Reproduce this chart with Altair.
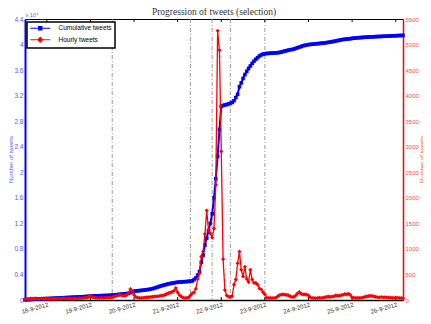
import altair as alt
import pandas as pd

# ---------------- data ----------------
hourly = [
    20, 25, 18, 30, 22, 28, 35, 25, 20, 30, 26, 22,
    28, 20, 32, 25, 18, 24, 30, 22, 26, 35, 28, 24,
    30, 26, 22, 35, 30, 28, 38, 32, 40, 45, 50, 60,
    80, 55, 45, 42, 40, 38, 45, 40, 42, 48, 45, 50,
    55, 65, 75, 90, 100, 95, 85, 80, 100, 140, 215, 160,
    100, 60, 45, 42, 40, 45, 50, 52, 55, 58, 62, 65,
    70, 72, 78, 85, 90, 100, 120, 135, 145, 160, 180, 235,
    150, 95, 65, 45, 40, 42, 50, 90, 130, 150, 220, 410,
    520, 850, 950, 1290, 1750, 1360, 1300, 1220, 1400, 2250, 5270, 4890,
    2910, 800, 195, 90, 65, 60, 77, 300, 400, 720, 946, 590,
    460, 650, 410, 350, 590, 400, 335, 335, 300, 226, 206, 150,
    110, 45, 40, 38, 40, 38, 45, 70, 95, 105, 110, 105,
    100, 90, 70, 58, 60, 90, 130, 154, 120, 110, 110, 105,
    90, 50, 38, 40, 35, 38, 42, 40, 45, 55, 62, 65,
    60, 68, 70, 90, 80, 85, 95, 100, 115, 110, 122, 100,
    50, 45, 40, 42, 38, 45, 48, 60, 70, 75, 80, 77,
    70, 60, 55, 50, 58, 52, 55, 50, 48, 45, 42, 40,
    48, 45, 40, 38, 35,
]
cumulative = [
    30, 50, 65, 85, 100, 120, 140, 155, 170, 185, 200, 210,
    220, 230, 240, 255, 270, 285, 300, 320, 335, 350, 365, 380,
    395, 410, 425, 440, 455, 470, 485, 500, 515, 530, 550, 580,
    615, 630, 640, 650, 660, 670, 680, 690, 700, 710, 720, 735,
    760, 790, 820, 850, 880, 910, 940, 970, 1000, 1050, 1150, 1300,
    1380, 1410, 1440, 1470, 1500, 1530, 1570, 1610, 1650, 1700, 1760, 1840,
    1930, 2030, 2130, 2220, 2300, 2380, 2450, 2520, 2580, 2640, 2690, 2740,
    2780, 2810, 2830, 2850, 2870, 2890, 2920, 2960, 2980, 3200, 3450, 3900,
    4450, 5900, 7000, 8600, 9700, 10900, 12000, 13500, 16000, 19000, 22500, 26700,
    30300, 30450, 30550, 30600, 30700, 30800, 30950, 31200, 31700, 32200, 33400, 34000,
    34700, 35300, 35800, 36250, 36650, 37050, 37400, 37700, 37950, 38200, 38380, 38500,
    38560, 38600, 38620, 38640, 38660, 38680, 38700, 38720, 38760, 38820, 38900, 38980,
    39050, 39120, 39180, 39230, 39300, 39400, 39500, 39600, 39700, 39800, 39880, 39940,
    39990, 40020, 40050, 40080, 40110, 40140, 40170, 40200, 40230, 40260, 40300, 40350,
    40400, 40450, 40500, 40560, 40620, 40680, 40740, 40790, 40830, 40860, 40880, 40920,
    40960, 41000, 41030, 41060, 41080, 41100, 41120, 41140, 41160, 41180, 41190, 41200,
    41220, 41240, 41250, 41260, 41280, 41290, 41300, 41320, 41330, 41340, 41360, 41370,
    41380, 41400, 41410, 41420, 41430,
]
assert len(hourly) == len(cumulative) == 209

hours = list(range(len(hourly)))          # hours since 17-9-2012 12:00
tick_hours = [12, 36, 60, 84, 108, 132, 156, 180, 204]
tick_labels = ["18-9-2012", "19-9-2012", "20-9-2012", "21-9-2012", "22-9-2012",
               "23-9-2012", "24-9-2012", "25-9-2012", "26-9-2012"]
event_hours = [48, 91, 103, 113, 132]
series_names = ["Cumulative tweets", "Hourly tweets"]
left_ticks = list(range(0, 44001, 4000))
right_ticks = list(range(0, 5501, 500))

df = pd.DataFrame({"hour": hours, "hourly": hourly, "cumulative": cumulative})
ev_df = pd.DataFrame({"hour": event_hours})
tick_df = pd.DataFrame({"hour": tick_hours})
leg_df = pd.DataFrame({"series": series_names})

# ---------------- styling ----------------
BLUE = "#0000ff"
RED = "#ff0000"
FONT = "Liberation Sans"
W, H = 378, 281

xscale = alt.Scale(domain=[0, 208], nice=False, zero=False)
label_expr = "[" + ",".join("'%s'" % s for s in tick_labels) + "][round((datum.value - 12) / 24)]"

bottom_axis = alt.Axis(orient="bottom", values=tick_hours, labelExpr=label_expr,
                       labelAngle=-16, labelAlign="right", labelBaseline="top",
                       labelFontSize=6, labelColor="#333333", labelFont=FONT,
                       labelPadding=1, ticks=False, domainColor="black",
                       domainWidth=1.5, title=None, grid=False, labelOverlap=False)
top_axis = alt.Axis(orient="top", labels=False, ticks=False, domain=False, grid=False,
                    title="x 10⁴", titleX=0, titleY=-3, titleAlign="left",
                    titleBaseline="alphabetic", titleFontSize=5.5,
                    titleFontWeight="normal", titleColor="#5a5aff", titleFont=FONT)

vlines = alt.Chart(ev_df).mark_rule(color="#9a9a9a", strokeWidth=1,
                                    strokeDash=[4, 2, 1, 2]).encode(
    x=alt.X("hour:Q", scale=xscale, axis=bottom_axis))

top_ticks = alt.Chart(tick_df).mark_rule(color="black", strokeWidth=1).encode(
    x=alt.X("hour:Q", scale=xscale, axis=top_axis),
    y=alt.value(0), y2=alt.value(3))
bottom_ticks = alt.Chart(tick_df).mark_rule(color="black", strokeWidth=1).encode(
    x=alt.X("hour:Q", scale=xscale, axis=None),
    y=alt.value(H - 3), y2=alt.value(H))

left_axis = alt.Axis(orient="left", values=left_ticks,
                     labelExpr="'' + round(datum.value / 1000) / 10",
                     labelColor="#5a5aff", labelFontSize=6.5, labelFont=FONT,
                     ticks=False, labelPadding=2, domainColor=BLUE, domainWidth=2,
                     grid=False, title="Number of tweets", titleColor="#5a5aff",
                     titleFontSize=6, titleFontWeight="normal", titleFont=FONT,
                     titleAngle=270, titleX=-12.5, titleY=140, titleAlign="center",
                     titleBaseline="alphabetic")
right_axis = alt.Axis(orient="right", values=right_ticks, format="d",
                      labelColor="#ff5050", labelFontSize=6, labelFont=FONT,
                      ticks=False, labelPadding=2, domainColor=RED, domainWidth=1.5,
                      grid=False, title="Number of tweets", titleColor="#ff5050",
                      titleFontSize=6, titleFontWeight="normal", titleFont=FONT,
                      titleAngle=270, titleX=20, titleY=140, titleAlign="center",
                      titleBaseline="alphabetic")

blue = alt.Chart(df).mark_line(
    color=BLUE, strokeWidth=2,
    point=alt.OverlayMarkDef(shape="square", size=13, filled=True, color=BLUE)
).encode(
    x=alt.X("hour:Q", scale=xscale, axis=None),
    y=alt.Y("cumulative:Q", scale=alt.Scale(domain=[0, 44000], nice=False),
            axis=left_axis))

red = alt.Chart(df).mark_line(
    color=RED, strokeWidth=1.3,
    point=alt.OverlayMarkDef(shape="diamond", size=17, filled=True, color=RED)
).encode(
    x=alt.X("hour:Q", scale=xscale, axis=None),
    y=alt.Y("hourly:Q", scale=alt.Scale(domain=[0, 5500], nice=False),
            axis=right_axis))

sq_path = "M-5,0H5M-0.8,-0.8H0.8V0.8H-0.8Z"
dm_path = "M-5,0H5M0,-1.15L1.15,0L0,1.15L-1.15,0Z"
legend = alt.Legend(title=None, orient="none", legendX=2, legendY=3,
                    fillColor="white", strokeColor="black", padding=3,
                    symbolSize=16, symbolOffset=7, labelOffset=15,
                    labelFontSize=6.5, labelFont=FONT, labelColor="black",
                    rowPadding=1.5, symbolStrokeWidth=1.2, symbolOpacity=1,
                    cornerRadius=0)
color_scale = alt.Scale(domain=series_names, range=[BLUE, RED])
leg_layer = alt.Chart(leg_df).mark_point(filled=True, opacity=0).encode(
    fill=alt.Fill("series:N", scale=color_scale, legend=legend),
    stroke=alt.Stroke("series:N", scale=color_scale, legend=legend),
    shape=alt.Shape("series:N", scale=alt.Scale(domain=series_names,
                                                range=[sq_path, dm_path]),
                    legend=legend))

chart = alt.layer(vlines, top_ticks, bottom_ticks, blue, red, leg_layer).resolve_scale(
    y="independent"
).resolve_axis(
    x="independent", y="independent"
).properties(
    width=W, height=H, autosize="none",
    padding={"left": 17, "top": 11, "right": 20, "bottom": 16},
    title=alt.TitleParams("Progression of tweets (selection)", font="Liberation Serif",
                          fontSize=9.5, fontWeight="normal", color="#333333",
                          anchor="middle", offset=-4),
).configure_view(
    stroke="black", strokeWidth=1
).configure_legend(
    strokeWidth=1.5
)

chart.save("out.html", embed_options={"renderer": "svg", "actions": False})
